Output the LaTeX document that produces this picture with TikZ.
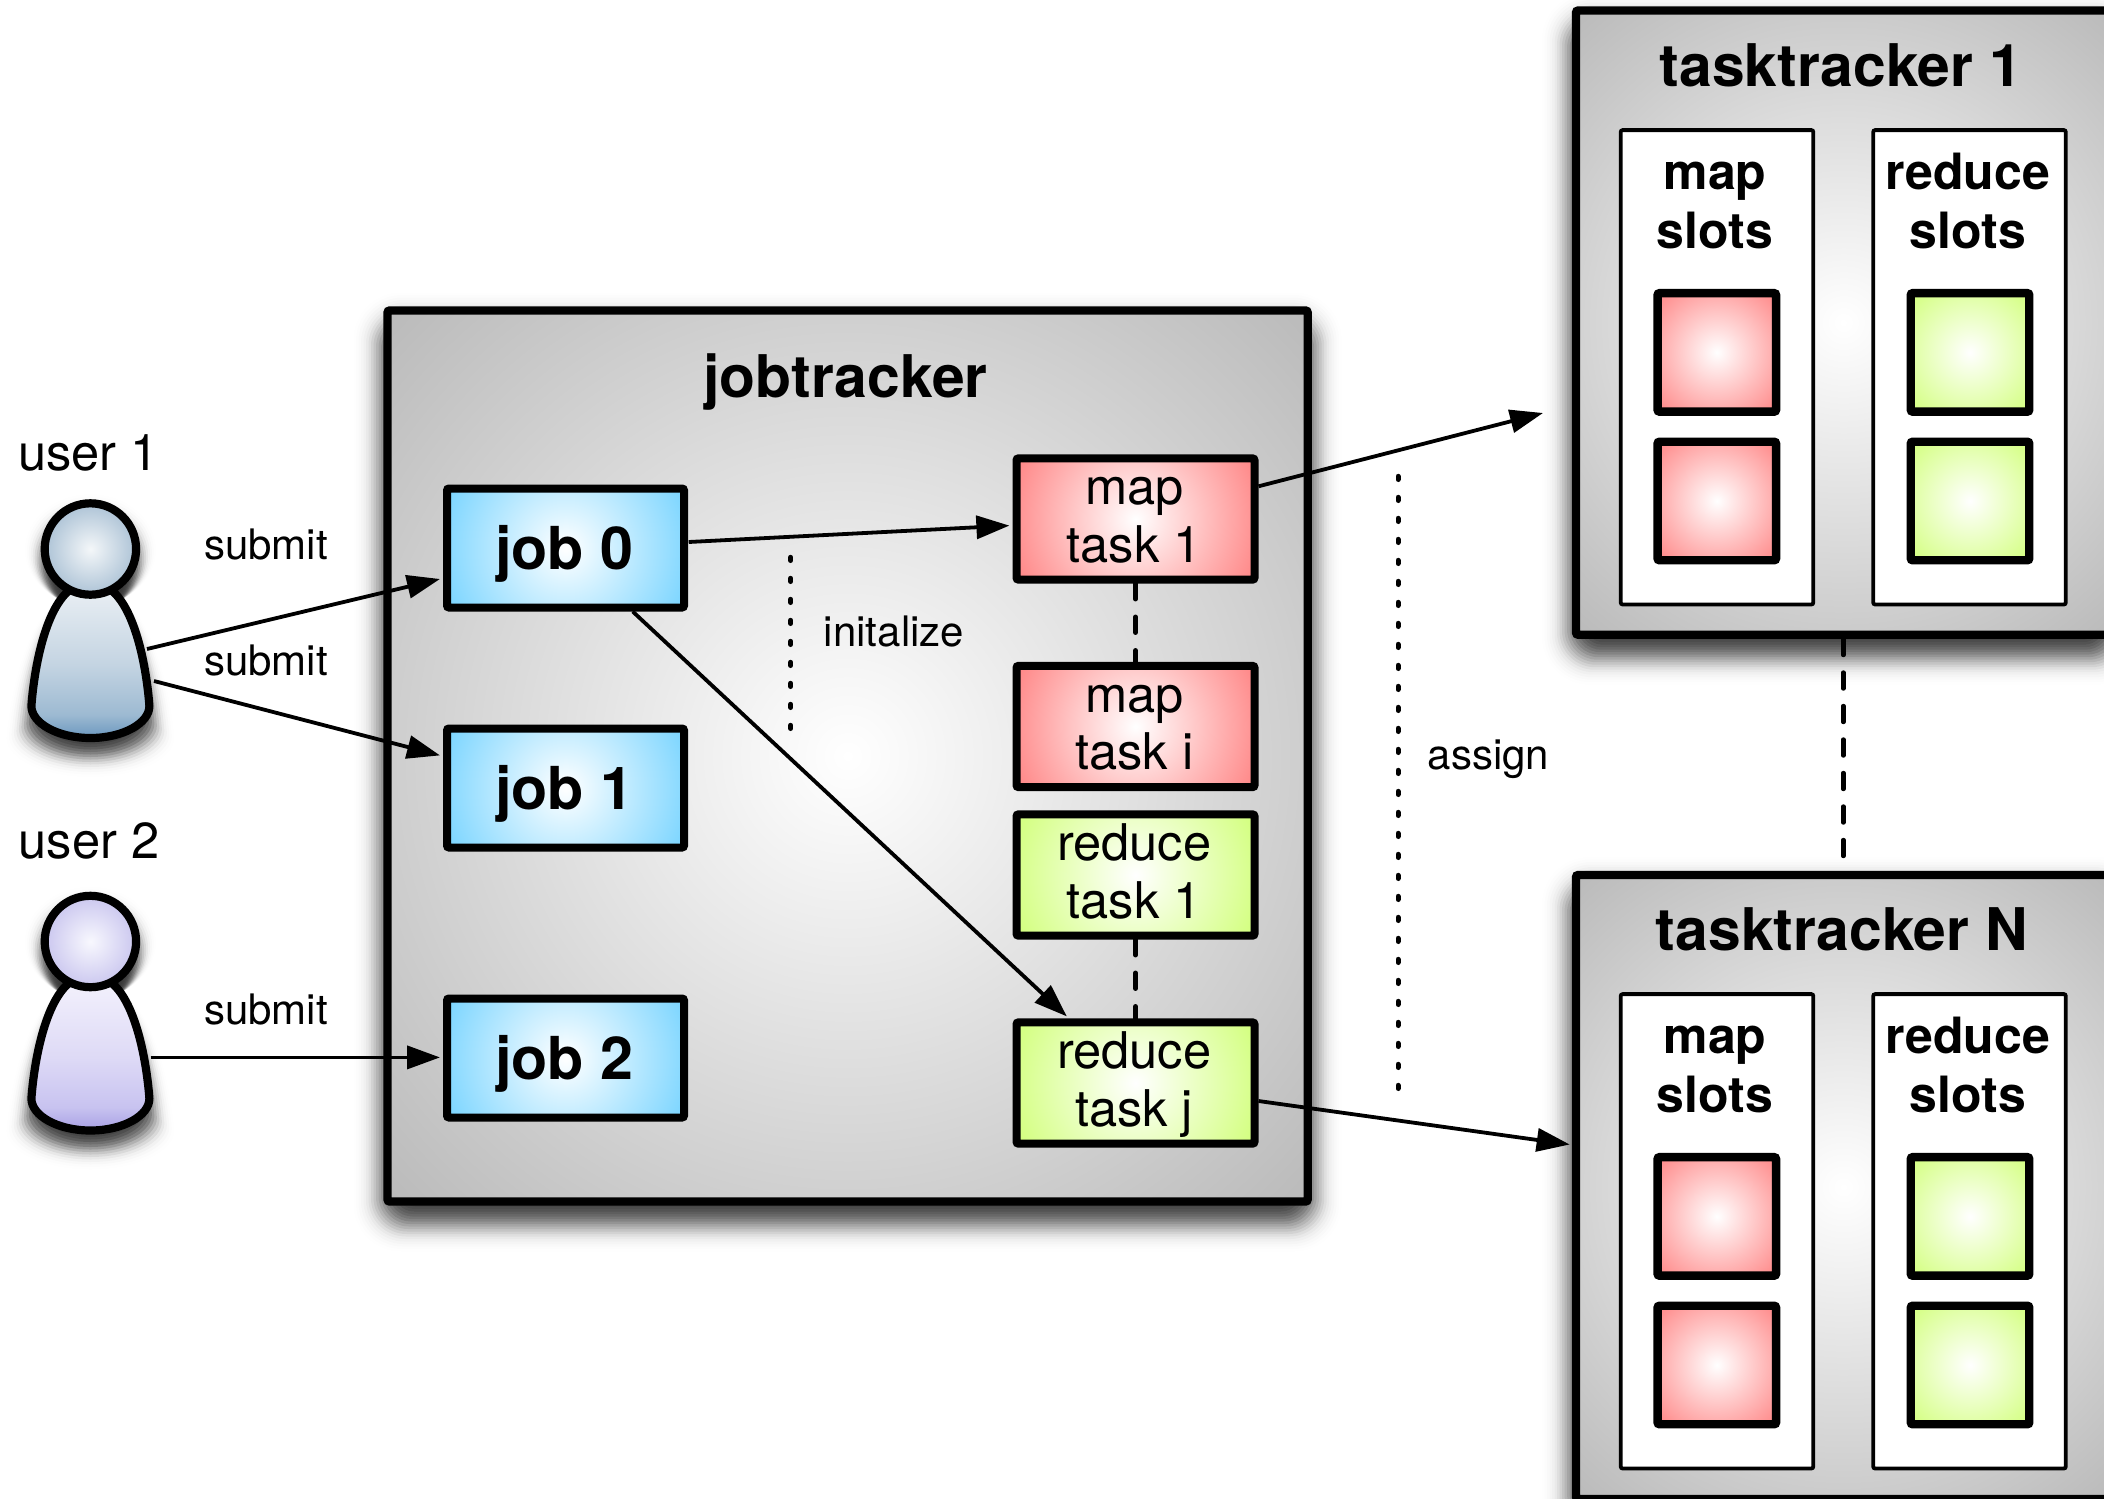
\documentclass[tikz,border=0pt]{standalone}
\usepackage{fontspec}
\setmainfont{TeX Gyre Heros}
\usetikzlibrary{arrows.meta,calc}
\definecolor{ba1}{HTML}{6A97BE}\definecolor{ba2}{HTML}{9DBAD2}\definecolor{ba3}{HTML}{C4D4E2}\definecolor{ba4}{HTML}{E8EEF3}
\definecolor{bb1}{HTML}{A8A0E4}\definecolor{bb2}{HTML}{C8C3F0}\definecolor{bb3}{HTML}{DEDAF6}\definecolor{bb4}{HTML}{F2F0FC}
\definecolor{haIn}{HTML}{F4F7F9}\definecolor{haOut}{HTML}{A9C0D4}
\definecolor{hbIn}{HTML}{F8F8FE}\definecolor{hbOut}{HTML}{C8C4EE}
\definecolor{JobOut}{HTML}{78D4FF}
\definecolor{RedOut}{HTML}{FF8585}
\definecolor{GreenOut}{HTML}{D2FF7C}
\pgfdeclareverticalshading{bodyA}{100bp}{color(0bp)=(ba1); color(25bp)=(ba1); color(33bp)=(ba2); color(50bp)=(ba3); color(75bp)=(ba4); color(100bp)=(ba4)}
\pgfdeclareverticalshading{bodyB}{100bp}{color(0bp)=(bb1); color(25bp)=(bb1); color(33bp)=(bb2); color(50bp)=(bb3); color(75bp)=(bb4); color(100bp)=(bb4)}
\tikzset{
  radfill/.style n args={3}{path picture={\shade[inner color=#1,outer color=#2,draw=none] (path picture bounding box.center) circle (#3);}},
  boxbase/.style={rectangle,draw=black,rounded corners=1pt,inner sep=0pt,outer sep=0pt,align=center},
  trackbox/.style={boxbase,line width=4.1pt,radfill={white}{black!27}{#1}},
  jobbox/.style={boxbase,line width=4pt,minimum width=118.5pt,minimum height=59.5pt,radfill={white}{JobOut}{133},font=\fontsize{29.6}{34}\selectfont\bfseries},
  taskmap/.style={boxbase,line width=4pt,minimum width=119pt,minimum height=59pt,radfill={white}{RedOut}{133},font=\fontsize{25.3}{28.8}\selectfont},
  taskred/.style={boxbase,line width=4pt,minimum width=119pt,minimum height=59pt,radfill={white}{GreenOut}{133},font=\fontsize{25.3}{28.8}\selectfont},
  slotbox/.style={boxbase,fill=white,line width=1.9pt,minimum width=96.3pt,minimum height=237.2pt},
  slotred/.style={boxbase,line width=4.2pt,minimum width=59.25pt,minimum height=59.25pt,radfill={white}{RedOut}{84}},
  slotgreen/.style={boxbase,line width=4.2pt,minimum width=59.25pt,minimum height=59.25pt,radfill={white}{GreenOut}{84}},
  slotlabel/.style={inner sep=0pt,align=center,font=\fontsize{25}{29.5}\selectfont\bfseries},
  tracktitle/.style={inner sep=0pt,font=\fontsize{29.4}{36}\selectfont\bfseries},
  edgelabel/.style={inner sep=0pt,font=\fontsize{21}{24}\selectfont},
  userlabel/.style={inner sep=0pt,font=\fontsize{25.3}{28}\selectfont},
  conn/.style={line width=1.9pt,-{Triangle[length=16.5pt,width=11.5pt]}},
  dashconn/.style={line width=2.2pt,line cap=round,dash pattern=on 8pt off 8.75pt},
  dotconn/.style={line width=2.5pt,line cap=round,dash pattern=on 1.6pt off 8.9pt},
  headnode/.style={circle,draw=black,line width=4.1pt,minimum size=45.7pt,inner sep=0pt,outer sep=0pt},
}
\newcommand{\tasktext}[2]{\rule{0pt}{23.2pt}#1\kern1.3pt\\#2\kern1.3pt\rule[-8.64pt]{0pt}{0pt}}
\newcommand{\jobtext}[1]{\rule{0pt}{28pt}\rule[-6.2pt]{0pt}{0pt}#1\kern1.3pt}
\newcommand{\softshadow}[4]{%
  \foreach \d in {-36,-33.5,...,36}{%
    \pgfmathsetmacro{\rr}{(\d+37)/3}%
    \pgfmathsetmacro{\aa}{0.105*exp(-(\d/19)*(\d/19))}%
    \fill[black,fill opacity=\aa,rounded corners=\rr pt] (#1-\d,#2-\d+16) rectangle (#3+\d,#4+\d+16);}}
\newcommand{\bodyoutline}{(-22,40) .. controls (-45,60) and (-56,115) .. (-59,155) .. controls (-59,172) and (-33,187) .. (0,187) .. controls (33,187) and (59,172) .. (59,155) .. controls (56,115) and (45,60) .. (22,40)}
\newcommand{\personfig}[6]{% name, x, y, body shading, head inner, head outer
  \foreach \d in {-25,-22.5,...,27.5}{%
    \pgfmathsetmacro{\sx}{(59+\d)/59}\pgfmathsetmacro{\sy}{(117+\d)/117}%
    \pgfmathsetmacro{\aa}{0.15*exp(-(\d/13)*(\d/13))}%
    \begin{scope}[shift={(#2,#3+84)},xscale=\sx,yscale=\sy,shift={(0,-70)}]
      \fill[black,fill opacity=\aa] \bodyoutline -- cycle;
      \fill[black,fill opacity=\aa] (0,0) circle (46);
    \end{scope}}
  \begin{scope}[shift={(#2,#3)}]
    \shade[shading=#4,draw=black,line width=4.1pt] \bodyoutline;
  \end{scope}
  \node[headnode,radfill={#5}{#6}{48}] (#1) at (#2,#3-2) {};
}
\begin{document}
\begin{tikzpicture}[x=0.5pt,y=-0.5pt]
\useasboundingbox (0,0) rectangle (2104,1499);
\clip (0,0) rectangle (2104,1499);
\fill[white] (0,0) rectangle (2104,1499);

% shadows
\softshadow{387.5}{310.5}{1307.7}{1201.5}
\softshadow{1576}{10.5}{2110.6}{634.7}
\softshadow{1576}{875}{2110.6}{1499}

% users
\personfig{user1}{90.4}{551}{bodyA}{haIn}{haOut}
\personfig{user2}{90.4}{943.5}{bodyB}{hbIn}{hbOut}
\node[userlabel] (u1label) at (88.5,453) {user 1};
\node[userlabel] (u2label) at (89,841) {user 2};

% jobtracker
\node[trackbox=641,minimum width=460.1pt,minimum height=445.5pt] (jobtracker) at (847.6,756) {};
\node[tracktitle] (jtlabel) at (845.5,382) {jobtracker};

\node[jobbox] (job0) at (565.5,548) {\jobtext{job 0}};
\node[jobbox] (job1) at (565.5,788) {\jobtext{job 1}};
\node[jobbox] (job2) at (565.5,1058) {\jobtext{job 2}};

\node[taskmap] (map1) at (1135.5,519) {\tasktext{map}{task 1}};
\node[taskmap] (mapi) at (1135.5,726.5) {\tasktext{map}{task i}};
\node[taskred] (red1) at (1135.5,875) {\tasktext{reduce}{task 1}};
\node[taskred] (redj) at (1135.5,1083) {\tasktext{reduce}{task j}};

% tasktracker 1
\node[trackbox=411,minimum width=267.3pt,minimum height=312.1pt] (tt1) at (1843.3,322.6) {};
\node[tracktitle] (tt1label) at (1841,65) {tasktracker 1};
\node[slotbox] (tt1m) at (1717,367.3) {};
\node[slotbox] (tt1r) at (1969.5,367.3) {};
\node[slotlabel] (tt1ml) at (1715,206.7) {\strut map\\slots\strut};
\node[slotlabel] (tt1rl) at (1968,206.7) {\strut reduce\\slots\strut};
\node[slotred] (tt1m1) at (1716.8,352.4) {};
\node[slotred] (tt1m2) at (1716.8,501) {};
\node[slotgreen] (tt1r1) at (1970,352.4) {};
\node[slotgreen] (tt1r2) at (1970,501) {};

% tasktracker N
\node[trackbox=411,minimum width=267.3pt,minimum height=312pt] (ttN) at (1843.3,1187) {};
\node[tracktitle] (ttNlabel) at (1842,929) {tasktracker N};
\node[slotbox] (ttNm) at (1717,1231.3) {};
\node[slotbox] (ttNr) at (1969.5,1231.3) {};
\node[slotlabel] (ttNml) at (1715,1070.7) {\strut map\\slots\strut};
\node[slotlabel] (ttNrl) at (1968,1070.7) {\strut reduce\\slots\strut};
\node[slotred] (ttNm1) at (1716.8,1216.4) {};
\node[slotred] (ttNm2) at (1716.8,1365) {};
\node[slotgreen] (ttNr1) at (1970,1216.4) {};
\node[slotgreen] (ttNr2) at (1970,1365) {};

% edge labels
\node[edgelabel] (s1) at (266,544) {submit};
\node[edgelabel] (s2) at (266,660) {submit};
\node[edgelabel] (s3) at (266,1009) {submit};
\node[edgelabel] (init) at (894,631) {initalize};
\node[edgelabel] (assign) at (1488.5,759) {assign};

% connectors
\draw[conn] ([shift={(56.6,100)}]user1.center) -- ([shift={(-7,31)}]job0.west);
\draw[conn] ([shift={(63.6,132)}]user1.center) -- ([shift={(-7,-32.6)}]job1.west);
\draw[conn] ([shift={(60.2,115.9)}]user2.center) -- ([shift={(-7,-0.6)}]job2.west);
\draw[conn] ([shift={(4.7,-6)}]job0.east) -- ([shift={(-7.1,6.6)}]map1.west);
\draw[conn] ([shift={(67.2,4)}]job0.south) -- ([shift={(-68.7,-6)}]redj.north);
\draw[conn] ([shift={(4,-32.7)}]map1.east) -- ([shift={(-33,90.4)}]tt1.west);
\draw[conn] ([shift={(4,18)}]redj.east) -- ([shift={(-6.3,-42.5)}]ttN.west);

\draw[dashconn] ([shift={(0,3.6)}]map1.south) -- (mapi.north);
\draw[dashconn] ([shift={(0,3.6)}]red1.south) -- (redj.north);
\draw[dashconn] ([shift={(0,4.3)}]tt1.south) -- (ttN.north);

\coordinate (da) at (790.7,557.3);
\coordinate (db) at (790.7,729);
\coordinate (dc) at (1398,476.3);
\coordinate (dd) at (1398,1089);
\draw[dotconn] (da) -- (db);
\draw[dotconn] (dc) -- (dd);
\end{tikzpicture}
\end{document}
